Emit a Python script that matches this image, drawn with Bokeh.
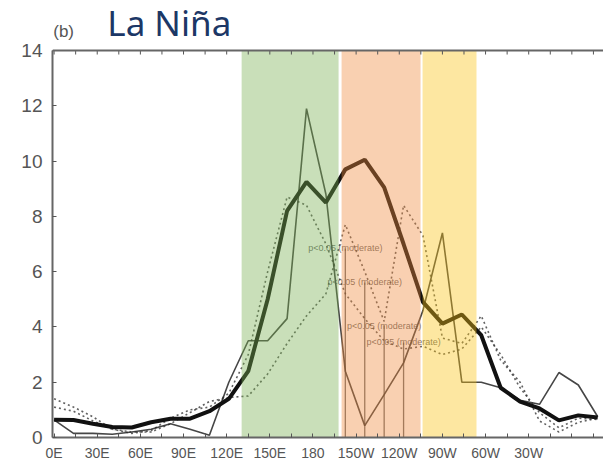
from bokeh.plotting import figure
from bokeh.models import LinearAxis, FixedTicker, Range1d, ColumnDataSource, Label, Span
from bokeh.embed import file_html
from bokeh.resources import INLINE

# longitude positions (degrees east, continuing past 360)
lon = [0, 13.5, 27, 40.5, 54, 67.5, 81, 94.5, 108, 121.5, 135, 148.5, 162, 175.5,
       189, 202.5, 216, 229.5, 243, 256.5, 270, 283.5, 297, 310.5, 324, 337.5,
       351, 364.5, 378]

thick = [0.64, 0.63, 0.50, 0.38, 0.36, 0.55, 0.68, 0.68, 0.95, 1.40, 2.40, 5.00,
         8.20, 9.25, 8.50, 9.70, 10.05, 9.05, 7.00, 4.90, 4.12, 4.45, 3.70, 1.80,
         1.30, 1.05, 0.62, 0.80, 0.72]
thin = [0.64, 0.15, 0.15, 0.12, 0.20, 0.30, 0.50, 0.30, 0.08, 2.00, 3.50, 3.50,
        4.30, 11.90, 8.80, 2.40, 0.43, 1.55, 2.70, 4.60, 7.40, 2.00, 2.00, 1.80,
        1.35, 1.20, 2.35, 1.90, 0.75]
dot_a = [1.40, 1.10, 0.75, 0.30, 0.15, 0.25, 0.70, 1.00, 1.10, 1.60, 3.00, 6.00,
         8.70, 8.40, 7.00, 5.20, 4.30, 3.50, 3.20, 3.30, 3.00, 3.20, 4.00, 3.00,
         1.80, 0.90, 0.35, 0.70, 0.65]
dot_b = [1.10, 0.95, 0.60, 0.30, 0.20, 0.20, 0.50, 0.90, 1.30, 1.45, 1.50, 2.30,
         3.40, 4.40, 5.20, 7.70, 6.00, 4.20, 8.40, 7.30, 3.60, 3.40, 4.40, 2.80,
         2.00, 0.60, 0.20, 0.55, 0.70]

# highlighted longitude bands (drawn as translucent overlays)
band_left = [130.4, 199.9, 256.2]
band_right = [197.8, 254.8, 293.7]
band_colors = ["#78b050", "#f08a3c", "#fac414"]
band_alpha = 0.40

# significance markers
sig_lon = [202.5, 216, 229.5, 243]
sig_top = [6.84, 5.61, 4.05, 3.44]
sig_text = ["p<0.05 (moderate)"] * 4

x_ticks = list(range(0, 376, 15))
x_labels = {0: "0E", 30: "30E", 60: "60E", 90: "90E", 120: "120E", 150: "150E",
            180: "180", 210: "150W", 240: "120W", 270: "90W", 300: "60W", 330: "30W"}
y_ticks = [0, 2, 4, 6, 8, 10, 12, 14]
y_max = 14

# plot area extends above y_max to leave room for the heading inside the frame
p = figure(width=603, height=469, output_backend="svg", toolbar_location=None,
           x_range=Range1d(-1.1, 382), y_range=Range1d(0, 15.81),
           min_border_left=52, min_border_right=0, min_border_top=0,
           min_border_bottom=32, x_axis_type=None, y_axis_type=None)
p.outline_line_color = None
p.xgrid.visible = False
p.ygrid.visible = False

p.line(lon, dot_a, line_color="#3a3a3a", line_width=1.6, line_dash="2 3", line_alpha=0.8)
p.line(lon, dot_b, line_color="#3a3a3a", line_width=1.6, line_dash="2 3", line_alpha=0.8)
p.line(lon, thin, line_color="#262626", line_width=1.6, line_alpha=0.85)
p.line(lon, thick, line_color="#111111", line_width=4)

p.segment(x0=sig_lon, y0=[0] * 4, x1=sig_lon, y1=sig_top, line_color="#333333",
          line_width=1.3, line_alpha=0.7)
src = ColumnDataSource(dict(x=sig_lon, y=sig_top, t=sig_text))
p.text(x="x", y="y", text="t", source=src, text_align="center",
       text_baseline="middle", text_font_size="9px", text_color="#444444",
       text_alpha=0.8)

p.quad(left=band_left, right=band_right, bottom=0, top=y_max, color=band_colors,
       fill_alpha=band_alpha, line_color=None)

# top frame line with inward ticks
p.add_layout(Span(location=y_max, dimension="width", line_color="#666666",
                  line_width=2))
tick_len = 4 / 27.64
p.segment(x0=x_ticks, y0=[y_max] * len(x_ticks), x1=x_ticks,
          y1=[y_max - tick_len] * len(x_ticks), line_color="#555555", line_width=1)

xb = LinearAxis(ticker=FixedTicker(ticks=x_ticks), major_label_overrides={
    t: x_labels.get(t, "") for t in x_ticks})
xb.major_label_text_font = "Liberation Sans"
xb.major_label_text_font_size = "14px"
xb.major_label_text_color = "#555555"
xb.major_label_standoff = 7
xb.major_tick_in = 4
xb.major_tick_out = 0
xb.minor_tick_line_color = None
xb.axis_line_color = "#666666"
xb.axis_line_width = 2
xb.major_tick_line_color = "#555555"
p.add_layout(xb, "below")

yl = LinearAxis(ticker=FixedTicker(ticks=y_ticks), bounds=(0, y_max))
yl.major_label_text_font = "Liberation Sans"
yl.major_label_text_font_size = "19px"
yl.major_label_text_color = "#555555"
yl.major_label_standoff = 10
yl.major_tick_in = 4
yl.major_tick_out = 0
yl.minor_tick_line_color = None
yl.axis_line_color = "#666666"
yl.axis_line_width = 2
yl.major_tick_line_color = "#555555"
p.add_layout(yl, "left")

p.add_layout(Label(x=37.0, y=15.01, text="La Niña", text_font="Noto Sans",
                   text_font_size="35px", text_color="#1c3766",
                   text_align="left", text_baseline="alphabetic"))
p.add_layout(Label(x=-0.6, y=14.68, text="(b)", text_font="Liberation Sans",
                   text_font_size="17px", text_color="#555555",
                   text_align="left", text_baseline="alphabetic"))

open("out.html", "w").write(file_html(p, INLINE))
